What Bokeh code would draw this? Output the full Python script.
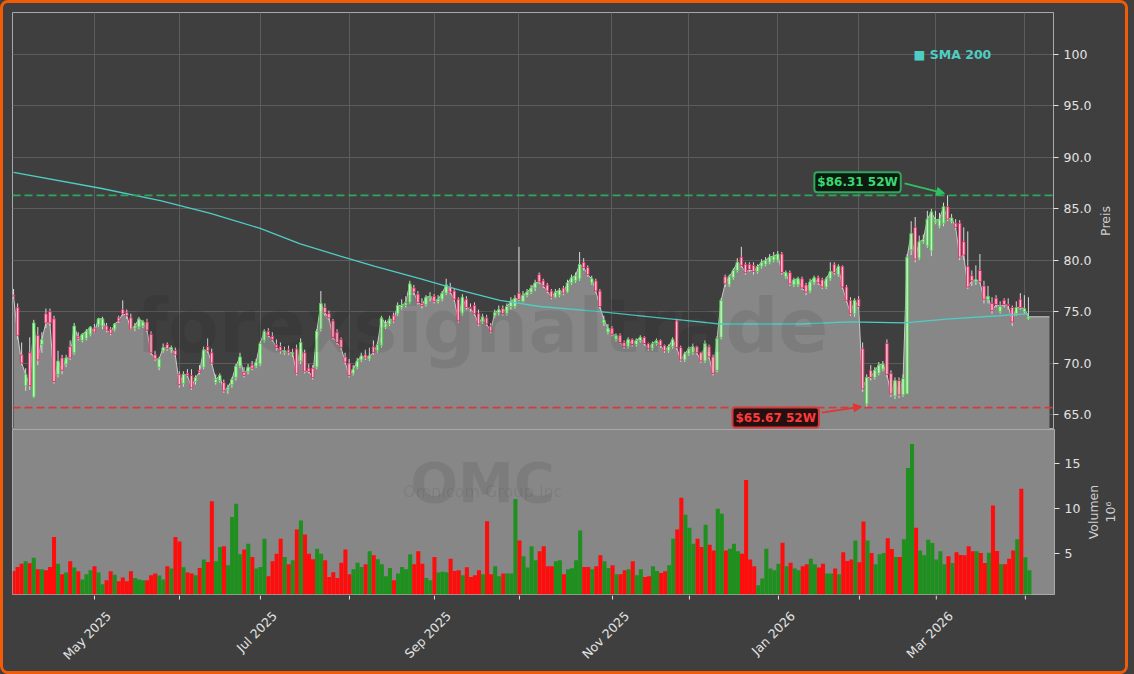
import math
import pandas as pd
from bokeh.plotting import figure
from bokeh.layouts import column, row
from bokeh.models import Span, Label, Arrow, NormalHead, FixedTicker, Range1d
from bokeh.embed import file_html
from bokeh.resources import INLINE
from bokeh.core.properties import value

# ---------------- data ----------------
holidays = ["2025-04-18", "2025-05-26", "2025-06-19", "2025-07-04", "2025-09-01",
            "2025-11-27", "2025-12-25", "2026-01-01", "2026-01-19", "2026-02-16"]
dates = pd.bdate_range("2025-04-02", "2026-04-02", freq="C", holidays=holidays)

# (open, high, low, close) per trading day
ohlc_rows = [
    (76.6, 77.2, 76.3, 76.5), (75.4, 75.8, 72.3, 72.7), (70.8, 72.0, 69.8, 70.0), (67.8, 69.5, 67.3, 68.9),
    (71.0, 72.5, 67.4, 67.8), (66.7, 74.2, 66.6, 73.9), (72.7, 73.5, 69.8, 70.3), (71.8, 73.0, 71.0, 72.3),
    (74.8, 75.3, 73.4, 73.9), (75.0, 75.3, 73.6, 73.9), (74.3, 74.6, 68.0, 68.2), (68.9, 71.2, 68.6, 70.2),
    (70.5, 70.8, 68.9, 69.3), (69.9, 70.8, 69.6, 70.5), (71.6, 72.2, 70.3, 70.5), (71.0, 73.9, 70.8, 73.6),
    (72.6, 73.0, 72.2, 72.4), (72.2, 72.9, 72.0, 72.8), (72.4, 73.3, 72.2, 73.1), (72.8, 73.6, 72.6, 73.5),
    (73.4, 73.8, 72.9, 73.0), (73.7, 74.4, 73.5, 74.3), (73.6, 74.5, 73.3, 74.3), (73.6, 73.9, 73.0, 73.2),
    (73.3, 73.5, 72.7, 72.9), (73.3, 73.9, 73.1, 73.8), (74.4, 74.6, 73.9, 74.1), (75.2, 76.1, 74.6, 74.8),
    (74.9, 75.2, 74.3, 74.6), (74.4, 74.8, 73.2, 73.3), (73.4, 73.9, 73.1, 73.6), (73.5, 74.5, 73.3, 74.3),
    (73.6, 74.2, 73.4, 74.0), (74.0, 74.3, 73.0, 73.2), (72.8, 73.1, 70.8, 71.0), (70.8, 71.2, 70.2, 70.4),
    (69.6, 70.6, 69.3, 70.4), (71.2, 71.9, 71.0, 71.5), (71.8, 72.0, 71.2, 71.4), (71.3, 71.7, 71.0, 71.5),
    (71.2, 71.5, 70.6, 70.8), (68.9, 69.2, 67.6, 67.9), (68.0, 69.2, 67.7, 68.9), (69.0, 69.4, 68.6, 68.8),
    (68.8, 69.4, 67.4, 67.6), (68.2, 68.8, 67.9, 68.6), (69.3, 69.8, 68.9, 69.1), (69.6, 71.6, 69.4, 71.3),
    (71.6, 72.4, 71.0, 71.2), (71.0, 71.4, 69.8, 70.0), (68.1, 68.9, 67.9, 68.4), (68.3, 69.0, 68.1, 68.8),
    (68.1, 68.4, 67.1, 67.3), (67.4, 67.9, 67.0, 67.6), (67.9, 68.6, 67.6, 68.4), (68.6, 69.9, 68.3, 69.7),
    (69.7, 71.0, 69.5, 70.6), (69.1, 69.6, 68.6, 68.8), (69.2, 69.9, 68.9, 69.6), (69.8, 70.2, 69.3, 69.5),
    (69.7, 70.4, 69.5, 70.1), (69.9, 72.1, 69.7, 71.9), (72.2, 73.3, 72.0, 73.1), (73.1, 73.4, 72.5, 72.7),
    (72.6, 73.0, 72.1, 72.3), (71.8, 72.3, 71.2, 71.5), (71.6, 72.0, 70.9, 71.2), (71.0, 71.6, 70.8, 71.2),
    (71.3, 71.7, 70.8, 71.0), (70.9, 71.4, 70.6, 71.0), (71.4, 71.8, 68.8, 69.0), (70.2, 72.4, 69.9, 72.0),
    (71.0, 71.3, 69.0, 69.2), (69.5, 69.9, 69.0, 69.2), (69.5, 69.8, 68.4, 68.6), (69.6, 73.3, 69.4, 73.1),
    (73.3, 77.0, 73.1, 75.8), (75.4, 75.8, 74.6, 74.9), (74.8, 75.1, 74.2, 74.4), (74.1, 74.3, 72.3, 72.5),
    (73.0, 73.3, 71.8, 72.0), (72.3, 72.5, 71.3, 71.5), (70.6, 71.0, 69.9, 70.1), (70.0, 70.4, 68.6, 68.8),
    (69.0, 69.8, 68.8, 69.4), (69.6, 70.5, 69.4, 70.2), (70.3, 71.0, 70.1, 70.7), (70.8, 71.3, 70.3, 70.5),
    (70.4, 71.5, 70.2, 70.7), (71.6, 72.2, 70.8, 71.0), (71.2, 72.0, 71.0, 71.8), (71.7, 74.6, 71.5, 74.4),
    (73.5, 74.2, 73.3, 73.8), (73.8, 74.6, 73.6, 74.3), (74.6, 74.9, 73.9, 74.1), (74.8, 75.9, 74.6, 75.6),
    (75.4, 76.2, 75.2, 75.6), (75.6, 76.5, 75.4, 75.9), (75.9, 78.0, 75.7, 77.7), (77.3, 77.6, 76.6, 76.9),
    (76.7, 77.0, 75.7, 75.9), (75.8, 76.3, 75.3, 75.6), (75.7, 76.6, 75.5, 76.4), (76.4, 76.9, 76.0, 76.5),
    (76.5, 76.7, 75.8, 76.0), (76.0, 76.6, 75.8, 76.2), (76.2, 77.0, 76.0, 76.8), (76.8, 78.2, 76.6, 77.6),
    (77.4, 77.8, 76.7, 76.9), (77.0, 77.2, 76.0, 76.2), (76.2, 76.4, 73.9, 74.1), (74.8, 76.7, 74.6, 76.4),
    (76.2, 76.5, 75.2, 75.4), (75.4, 75.8, 75.0, 75.3), (75.6, 75.9, 74.6, 74.8), (74.8, 75.2, 73.6, 73.8),
    (74.0, 74.8, 73.8, 74.5), (74.4, 74.7, 73.6, 73.8), (73.6, 73.9, 72.9, 73.1), (74.6, 75.2, 74.4, 74.9),
    (74.9, 75.6, 74.6, 75.2), (75.3, 75.6, 74.6, 74.8), (74.8, 75.8, 74.6, 75.5), (75.5, 76.4, 75.2, 76.0),
    (75.5, 76.6, 75.3, 76.3), (76.8, 81.3, 76.0, 76.2), (76.0, 77.0, 75.9, 76.6), (76.6, 77.2, 76.4, 76.9),
    (76.9, 77.6, 76.7, 77.3), (77.3, 78.1, 77.0, 77.8), (78.6, 78.8, 77.7, 77.9), (78.0, 78.2, 77.3, 77.5),
    (77.6, 77.8, 76.8, 77.0), (77.0, 77.2, 76.2, 76.4), (76.4, 77.2, 76.3, 76.9), (76.6, 77.3, 76.4, 77.1),
    (77.3, 77.5, 76.6, 76.8), (76.9, 78.1, 76.8, 77.8), (77.8, 78.6, 77.6, 78.3), (78.0, 78.8, 77.8, 78.5),
    (78.2, 80.8, 78.0, 79.6), (79.8, 80.2, 79.0, 79.3), (79.3, 79.5, 78.4, 78.6), (77.8, 78.5, 77.6, 78.2),
    (78.0, 78.2, 76.8, 77.0), (77.0, 77.2, 75.3, 75.5), (73.9, 74.6, 73.6, 74.2), (73.0, 73.8, 72.8, 73.4),
    (73.4, 73.6, 72.6, 72.8), (72.3, 72.9, 72.1, 72.7), (72.7, 72.9, 71.9, 72.0), (72.0, 72.2, 71.4, 71.6),
    (71.6, 72.5, 71.4, 72.3), (72.3, 72.4, 71.6, 71.8), (71.8, 72.4, 71.6, 72.2), (72.2, 72.7, 72.0, 72.5),
    (72.5, 72.6, 71.7, 71.9), (71.9, 72.0, 71.2, 71.4), (71.4, 72.1, 71.2, 71.9), (71.9, 72.4, 71.7, 72.2),
    (72.2, 72.3, 71.5, 71.7), (71.7, 71.8, 71.0, 71.2), (71.2, 71.8, 71.0, 71.6), (71.6, 72.5, 71.4, 72.3),
    (74.1, 74.3, 71.3, 71.5), (71.5, 71.7, 70.1, 70.3), (70.3, 71.1, 70.1, 70.9), (70.9, 71.6, 70.7, 71.4),
    (71.0, 71.9, 70.8, 71.6), (71.6, 71.7, 70.8, 71.0), (71.0, 71.1, 70.0, 70.2), (70.2, 72.2, 70.0, 71.9),
    (71.6, 71.8, 70.4, 70.6), (70.6, 70.8, 68.8, 69.0), (69.3, 72.6, 69.1, 72.4), (72.5, 76.3, 72.3, 76.1),
    (78.4, 78.6, 77.4, 77.7), (77.6, 78.6, 77.4, 78.4), (78.3, 79.2, 78.1, 79.0), (79.0, 80.2, 78.8, 79.8),
    (80.3, 81.3, 79.3, 79.5), (79.6, 79.8, 78.6, 78.8), (79.6, 79.8, 78.9, 79.1), (79.5, 79.8, 78.6, 78.9),
    (78.9, 79.6, 78.7, 79.4), (79.4, 80.1, 79.2, 79.8), (79.6, 80.3, 79.4, 80.0), (79.8, 80.6, 79.6, 80.3),
    (80.0, 80.8, 79.8, 80.4), (80.0, 80.9, 79.8, 80.6), (80.6, 80.8, 78.6, 78.8), (78.4, 79.0, 78.2, 78.8),
    (78.8, 79.0, 77.5, 77.7), (77.6, 78.3, 77.4, 78.1), (77.6, 78.4, 77.4, 78.2), (78.2, 78.4, 77.1, 77.3),
    (77.6, 77.8, 76.6, 76.9), (77.0, 78.2, 76.8, 77.9), (77.8, 78.5, 77.6, 78.3), (78.3, 78.5, 77.6, 77.8),
    (78.1, 78.3, 77.2, 77.4), (77.4, 78.4, 77.2, 78.2), (78.2, 79.8, 78.0, 78.9), (79.6, 79.8, 78.6, 78.8),
    (78.6, 79.6, 78.4, 79.4), (79.4, 79.5, 77.2, 77.4), (77.4, 77.6, 75.9, 76.1), (76.1, 76.4, 74.6, 74.8),
    (74.8, 76.3, 74.5, 76.1), (76.2, 76.5, 75.3, 75.5), (71.4, 72.0, 67.2, 67.5), (66.0, 68.9, 65.67, 68.6),
    (69.3, 69.8, 68.3, 68.6), (68.6, 69.6, 68.4, 69.3), (69.0, 70.1, 68.8, 69.8), (69.4, 70.2, 69.2, 69.9),
    (71.9, 72.3, 68.6, 68.9), (69.0, 69.3, 66.7, 67.0), (66.8, 68.6, 66.5, 68.3), (68.3, 68.6, 66.6, 66.9),
    (66.9, 68.9, 66.7, 68.5), (67.0, 80.6, 67.0, 80.3), (81.0, 83.8, 80.5, 82.6), (83.2, 84.2, 79.8, 80.1),
    (80.2, 82.4, 80.0, 81.8), (81.8, 82.5, 81.6, 82.0), (81.4, 84.8, 81.2, 84.0), (80.9, 85.0, 80.4, 84.7),
    (83.7, 84.8, 83.5, 83.9), (83.3, 84.6, 83.1, 84.0), (83.6, 85.6, 83.3, 85.2), (85.2, 86.31, 83.8, 84.0),
    (83.8, 84.5, 83.6, 84.1), (83.6, 84.0, 83.0, 83.2), (83.6, 83.9, 80.0, 80.3), (81.8, 83.2, 80.0, 80.5),
    (79.4, 82.8, 77.2, 77.4), (78.5, 79.0, 77.5, 78.0), (77.9, 79.5, 77.6, 78.1), (79.0, 80.6, 77.7, 77.9),
    (77.5, 78.0, 75.8, 76.2), (76.2, 77.5, 75.8, 76.5), (75.8, 76.4, 74.8, 75.1), (76.3, 76.6, 75.4, 75.7),
    (75.0, 76.0, 74.8, 75.5), (76.1, 76.3, 75.4, 75.7), (75.7, 76.3, 75.2, 75.6), (75.4, 75.6, 73.6, 74.0),
    (74.8, 76.0, 74.6, 75.4), (76.2, 76.8, 75.2, 75.4), (75.0, 76.6, 74.8, 75.3), (74.3, 76.4, 74.2, 74.5),
]
opens = [r[0] for r in ohlc_rows]
highs = [r[1] for r in ohlc_rows]
lows = [r[2] for r in ohlc_rows]
closes = [r[3] for r in ohlc_rows]

volumes = [  # millions of shares
    3.04, 3.48, 3.85, 4.11, 3.9, 4.52, 3.22, 3.22, 3.11, 3.48,
    6.81, 3.85, 2.67, 2.85, 4.11, 3.41, 3.0, 2.07, 2.67, 3.11,
    3.56, 2.85, 1.56, 2.0, 3.0, 2.6, 1.89, 2.3, 1.89, 3.0,
    2.26, 2.07, 2.0, 2.0, 2.56, 2.74, 2.52, 2.07, 3.56, 3.3,
    6.81, 6.33, 3.44, 2.85, 2.74, 2.56, 3.37, 4.3, 4.04, 10.81,
    4.11, 5.7, 5.78, 3.67, 9.04, 10.52, 4.89, 5.44, 6.07, 4.59,
    3.3, 3.48, 6.63, 2.44, 4.11, 4.96, 6.63, 4.59, 3.78, 4.22,
    7.67, 8.67, 7.11, 4.96, 4.33, 5.52, 4.96, 4.22, 2.37, 2.89,
    2.26, 3.96, 5.44, 2.67, 3.22, 3.96, 3.48, 3.78, 5.22, 4.78,
    4.33, 3.78, 2.44, 3.37, 2.0, 2.74, 3.48, 3.22, 4.89, 3.78,
    5.22, 3.85, 2.26, 2.0, 4.59, 2.85, 2.96, 2.89, 4.41, 3.04,
    3.11, 2.56, 3.44, 2.37, 2.56, 3.11, 2.67, 8.59, 2.67, 3.56,
    2.44, 2.74, 2.74, 2.74, 11.07, 6.44, 4.67, 3.41, 5.78, 4.22,
    5.22, 5.78, 3.56, 3.56, 4.11, 4.22, 2.67, 3.22, 3.33, 4.22,
    7.56, 3.48, 3.48, 3.22, 3.56, 4.78,
    4.11, 3.37, 3.67, 2.67, 2.67, 3.11, 3.22, 4.11, 2.56, 3.22,
    2.37, 2.44, 3.56, 3.04, 2.81, 3.0, 3.67, 6.63, 7.67, 11.19,
    9.3, 7.85, 6.07, 6.63, 5.7, 8.19, 5.96, 5.33, 9.96, 9.41,
    5.33, 5.52, 6.07, 5.22, 4.96, 13.19, 4.3, 3.56, 1.44, 2.19,
    5.52, 3.3, 3.11, 3.85, 6.19, 3.56, 3.96, 3.3, 3.11, 3.56,
    3.78, 4.41, 3.78, 3.41, 3.85, 2.74, 2.74, 3.3, 2.67, 5.11,
    4.15, 4.3, 6.44, 4.0, 8.56, 6.44, 5.04, 3.78, 4.89, 5.04,
    6.67, 5.48, 4.59, 4.59, 6.56, 14.52,
    17.19, 7.85, 5.33, 4.78, 6.52, 6.15, 4.3, 5.22, 3.78, 4.67,
    3.93, 5.11, 4.81, 4.78, 5.78, 5.22, 5.22, 5.04, 3.93, 5.07,
    10.33, 5.26, 3.78, 3.78, 4.41, 5.33, 6.56, 12.19, 4.56, 3.11,
]

sma_idx = [0, 21.5, 36.3, 48.7, 61, 70.9, 80.8, 89.4, 100.5, 110.4, 120.3, 130.2,
           145, 157.4, 169.7, 174.6, 194.4, 206.8, 220.4, 231.5, 243.8, 251]
sma_val = [88.55, 87.0, 85.8, 84.55, 83.1, 81.6, 80.4, 79.4, 78.2, 77.1, 76.1, 75.5,
           75.0, 74.5, 74.0, 73.8, 73.8, 74.0, 73.9, 74.3, 74.6, 74.8]

price_ticks = [65, 70, 75, 80, 85, 90, 95, 100]
price_tick_labels = ["65.0", "70.0", "75.0", "80.0", "85.0", "90.0", "95.0", "100"]
volume_ticks = [5, 10, 15]
price_label = "Preis"
volume_label = ["Volumen", "10\u2076"]
symbol = "OMC"
company = "Omnicom Group Inc"
site_mark = "forexsignaltrade"
sma_label = "\u25a0 SMA 200"

# ---------------- style / layout constants ----------------
BG = "#3f3f3f"
PANEL = "#878787"
GRID = "#5c5c5c"
FRAME = "#a9a9a9"
TXT = "#e2e2e2"
LBL = "#cfcfcf"
FONT = "DejaVu Sans"
FS = "12.5px"
FULL_W = 1128
FRAME_W = 1042
PRICE_W, PRICE_LAB_W = 1091, 37
VOL_W, VOL_LAB_W = 1081, 47
PRICE_H, PRICE_FRAME_H = 426, 417
VOL_H, VOL_FRAME_H = 166, 165
XL_H = 76
X0, X1 = -0.26, 257.2
PY0, PY1 = 63.54, 104.09
VY0, VY1 = 0.41, 18.81
AREA_PAD = 5.2
LBL_DX, LBL_DY = 9, 13

n = len(closes)
idx = list(range(n))
ym = dates.to_period("M")
month_idx = [i for i in range(1, len(dates)) if ym[i] != ym[i - 1]]
labelled = [(i, dates[i].strftime("%b %Y")) for i in month_idx if dates[i].month % 2 == 1]

ppx = FRAME_W / (X1 - X0)
ppy = PRICE_FRAME_H / (PY1 - PY0)

x_range = Range1d(X0, X1)
price_y = Range1d(PY0, PY1)
vol_y = Range1d(VY0, VY1)


def style_axis(ax):
    ax.axis_line_color = FRAME
    ax.major_tick_line_color = TXT
    ax.major_tick_out = 5
    ax.major_tick_in = 0
    ax.minor_tick_line_color = None
    ax.major_label_text_color = TXT
    ax.major_label_text_font = FONT
    ax.major_label_text_font_size = FS


def blank(width, height, xr, yr, top=0, bottom=0, left=0, right=0):
    f = figure(width=width, height=height, x_range=xr, y_range=yr,
               x_axis_location=None, y_axis_location=None,
               output_backend="svg", toolbar_location=None,
               min_border_left=left, min_border_right=right,
               min_border_top=top, min_border_bottom=bottom,
               background_fill_color=BG, border_fill_color=BG, outline_line_color=None)
    f.grid.visible = False
    return f


# ---------------- price panel ----------------
p = figure(width=PRICE_W, height=PRICE_H, x_range=x_range, y_range=price_y,
           x_axis_location=None, y_axis_location="right",
           output_backend="svg", toolbar_location=None,
           min_border_left=9, min_border_right=PRICE_W - 9 - FRAME_W,
           min_border_top=PRICE_H - PRICE_FRAME_H, min_border_bottom=0,
           background_fill_color=BG, border_fill_color=BG, outline_line_color=FRAME)
p.ygrid.ticker = FixedTicker(ticks=price_ticks)
p.ygrid.grid_line_color = GRID
p.xgrid.ticker = FixedTicker(ticks=month_idx)
p.xgrid.grid_line_color = GRID

ya = p.yaxis[0]
ya.ticker = FixedTicker(ticks=price_ticks)
ya.major_label_overrides = {t: s for t, s in zip(price_ticks, price_tick_labels)}
style_axis(ya)

area_x = idx + [idx[-1] + AREA_PAD]
area_y = closes + [closes[-1]]
p.varea(x=area_x, y1=PY0 - 5, y2=area_y, fill_color=PANEL)
p.line(area_x, area_y, line_color="#c9c9c9", line_width=1)

p.add_layout(Label(x=115.9, y=73.6, text=site_mark, text_align="center", text_baseline="middle",
                   text_font=FONT, text_font_style="bold", text_font_size="74px",
                   text_color="black", text_alpha=0.08))

up = [c >= o for o, c in zip(opens, closes)]
body_top = [max(o, c) for o, c in zip(opens, closes)]
body_bot = [min(o, c) for o, c in zip(opens, closes)]
p.segment(x0=idx, y0=lows, x1=idx, y1=highs, line_color="#dadada", line_width=1)
p.vbar(x=idx, width=0.62, top=body_top, bottom=body_bot,
       fill_color=["#cdeecd" if u else "#f6c3d1" for u in up],
       line_color=["#4fd14f" if u else "#e5336a" for u in up], line_width=1)

p.line(sma_idx, sma_val, line_color="#4ecdc4", line_width=1.3)

hi = max(highs)
lo = min(lows)
i_hi = highs.index(hi)
i_lo = lows.index(lo)
p.add_layout(Span(location=hi, dimension="width", line_color="#2fa85c", line_dash="8 4", line_width=1.6))
p.add_layout(Span(location=lo, dimension="width", line_color="#d83a3a", line_dash="8 4", line_width=1.6))

p.add_layout(Label(x=i_hi, y=hi, x_offset=-90, y_offset=13, text=f"${hi:.2f} 52W",
                   text_align="center", text_baseline="middle", text_font=FONT,
                   text_font_style="bold", text_font_size="12px", text_color="#3bd873",
                   background_fill_color="#0c1a10", border_line_color="#2fa85c",
                   border_line_width=2, padding=3, border_radius=3))
p.add_layout(Arrow(end=NormalHead(size=8, fill_color="#2fc062", line_color="#2fc062"),
                   x_start=i_hi - 43 / ppx, y_start=hi + 12 / ppy,
                   x_end=i_hi - 3 / ppx, y_end=hi + 2 / ppy,
                   line_color="#2fc062", line_width=1.8))

p.add_layout(Label(x=i_lo, y=lo, x_offset=-91, y_offset=-10, text=f"${lo:.2f} 52W",
                   text_align="center", text_baseline="middle", text_font=FONT,
                   text_font_style="bold", text_font_size="12px", text_color="#ff3a3a",
                   background_fill_color="#241010", border_line_color="#d83a3a",
                   border_line_width=2, padding=3, border_radius=3))
p.add_layout(Arrow(end=NormalHead(size=8, fill_color="#e43535", line_color="#e43535"),
                   x_start=i_lo - 45 / ppx, y_start=lo - 5 / ppy,
                   x_end=i_lo - 5 / ppx, y_end=lo + 1 / ppy,
                   line_color="#e43535", line_width=1.8))

p.add_layout(Label(x=222.6, y=100, text=sma_label, text_align="left", text_baseline="middle",
                   text_font=FONT, text_font_style="bold", text_font_size="12.5px",
                   text_color="#4ecdc4"))

# price axis title (separate strip so it reads bottom-to-top)
plab = blank(PRICE_LAB_W, PRICE_H, Range1d(0, PRICE_LAB_W), price_y, top=PRICE_H - PRICE_FRAME_H)
plab.text(x=[11], y=[(PY0 + PY1) / 2], text=[price_label], angle=math.pi / 2,
          text_align="center", text_baseline="middle", text_font=value(FONT),
          text_font_size=value(FS), text_color=LBL)

# ---------------- volume panel ----------------
v = figure(width=VOL_W, height=VOL_H, x_range=x_range, y_range=vol_y,
           x_axis_location=None, y_axis_location="right",
           output_backend="svg", toolbar_location=None,
           min_border_left=9, min_border_right=VOL_W - 9 - FRAME_W,
           min_border_top=0, min_border_bottom=VOL_H - VOL_FRAME_H,
           background_fill_color=PANEL, border_fill_color=BG, outline_line_color=FRAME)
v.grid.visible = False
v.add_layout(Label(x=115.9, y=12.9, text=symbol, text_align="center", text_baseline="alphabetic",
                   text_font=FONT, text_font_style="bold", text_font_size="56px",
                   text_color="black", text_alpha=0.08))
v.add_layout(Label(x=115.9, y=11.9, text=company, text_align="center", text_baseline="middle",
                   text_font=FONT, text_font_size="16px", text_color="black", text_alpha=0.08))
v.vbar(x=idx, width=1.0, top=volumes, bottom=0,
       fill_color=["#1f8f1f" if u else "#fe0d0d" for u in up], line_color=None)
vy = v.yaxis[0]
vy.ticker = FixedTicker(ticks=volume_ticks)
style_axis(vy)

vlab = blank(VOL_LAB_W, VOL_H, Range1d(0, VOL_LAB_W), vol_y, bottom=VOL_H - VOL_FRAME_H)
vlab.text(x=[9, 26], y=[(VY0 + VY1) / 2] * 2, text=volume_label, angle=math.pi / 2,
          text_align="center", text_baseline="middle", text_font=value(FONT),
          text_font_size=value(FS), text_color=LBL)

# ---------------- date axis strip ----------------
xl = blank(FULL_W, XL_H, x_range, Range1d(-XL_H, 0), left=9, right=FULL_W - 9 - FRAME_W)
xl.segment(x0=month_idx, y0=[0] * len(month_idx), x1=month_idx, y1=[-4] * len(month_idx),
           line_color=TXT, line_width=1)
xl.text(x=[i + LBL_DX / ppx for i, _ in labelled], y=[-LBL_DY] * len(labelled),
        text=[t for _, t in labelled], angle=math.pi / 4, text_align="right",
        text_baseline="top", text_font=value(FONT), text_font_size=value(FS), text_color=TXT)

layout = column(row(p, plab, spacing=0), row(v, vlab, spacing=0), xl, spacing=0)
html = file_html(layout, INLINE, title="OMC")
css = ("<style>html,body{margin:0;padding:0;}"
       "body{border:3px solid #f25c08;border-radius:8px;width:1128px;height:668px;"
       "background:#3f3f3f;overflow:hidden;}</style>")
html = html.replace("<head>", "<head>" + css, 1)
open("out.html", "w").write(html)
